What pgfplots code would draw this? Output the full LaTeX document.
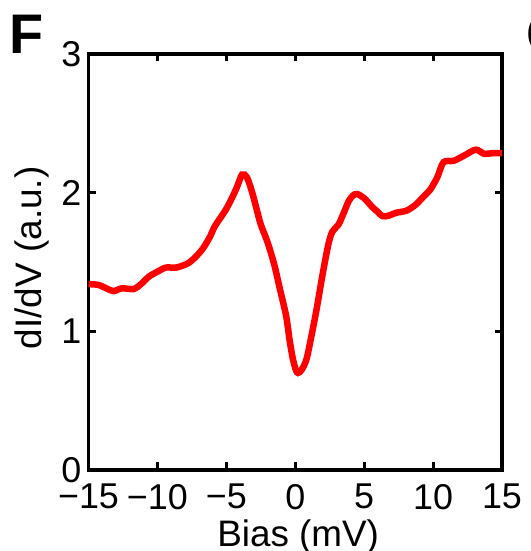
\documentclass[border=0pt]{standalone}
\usepackage{fontspec}
\setmainfont{Liberation Sans}
\usepackage{pgfplots}
\pgfplotsset{compat=1.18}
\begin{document}
\begin{tikzpicture}
\path[use as bounding box] (-88.5bp,-81bp) rectangle (442.5bp,470bp);
\begin{axis}[
  name=ax,
  at={(0,0)}, anchor=south west,
  scale only axis,
  width=413.5bp, height=416bp,
  xmin=-15, xmax=15, ymin=0, ymax=3,
  xtick={-15,-10,-5,0,5,10,15},
  xticklabels={−15,−10,−5,0,5,10,15},
  ytick={0,1,2,3},
  yticklabels={0,1,2,3},
  tick pos=both, tick align=inside,
  major tick length=7.5bp,
  axis line style={line width=3.5bp, black},
  every tick/.style={line width=3bp, black},
  font=\fontsize{36}{43}\selectfont,
  xticklabel style={anchor=north, inner sep=0pt, yshift=-14bp},
  yticklabel style={anchor=east, inner sep=0pt, xshift=-7bp},
  xlabel={Bias (mV)},
  ylabel={dI/dV (a.u.)},
  label style={font=\fontsize{37}{44}\selectfont},
  xlabel style={at={(axis description cs:0.507,-0.1827)}, anchor=base, inner sep=0pt},
  ylabel style={at={(axis description cs:-0.1125,0.51)}, anchor=base, rotate=0, inner sep=0pt},
]
\addplot[red, line width=6.5bp, smooth, tension=0.5] coordinates {
(-15,1.34) (-14.3,1.335) (-13.7,1.31) (-13.19,1.29) (-12.58,1.31) (-11.71,1.305)
(-11.2,1.34) (-10.61,1.395) (-10.0,1.43) (-9.38,1.46) (-8.64,1.46) (-7.79,1.49)
(-7.2,1.54) (-6.68,1.60) (-6.2,1.68) (-5.82,1.76) (-5.08,1.87) (-4.6,1.96)
(-4.23,2.04) (-3.86,2.13) (-3.5,2.11) (-3.12,2.00) (-2.8,1.88) (-2.50,1.77)
(-2.0,1.64) (-1.52,1.48) (-1.1,1.30) (-0.66,1.11) (-0.40,0.93) (-0.17,0.80)
(0.05,0.72) (0.20,0.70) (0.45,0.72) (0.82,0.80) (1.2,0.98) (1.55,1.16)
(2.0,1.42) (2.41,1.63) (2.7,1.72) (3.14,1.77) (3.5,1.85) (3.88,1.94)
(4.2,1.98) (4.50,1.99) (5.0,1.96) (5.60,1.895) (6.0,1.86) (6.34,1.83)
(6.8,1.835) (7.32,1.855) (8.06,1.87) (8.7,1.91) (9.29,1.97) (9.78,2.02)
(10.3,2.11) (10.76,2.22) (11.50,2.23) (12.3,2.27) (13.10,2.31) (13.71,2.28)
(14.3,2.285) (15,2.285)
};
\end{axis}
\node[anchor=base west, inner sep=0pt, font=\fontsize{56}{60}\selectfont\bfseries] at ([xshift=-79bp]ax.north west) {F};
\node[anchor=base west, inner sep=0pt, font=\fontsize{56}{60}\selectfont\bfseries] at ([xshift=24.5bp]ax.north east) {G};
\end{tikzpicture}
\end{document}
